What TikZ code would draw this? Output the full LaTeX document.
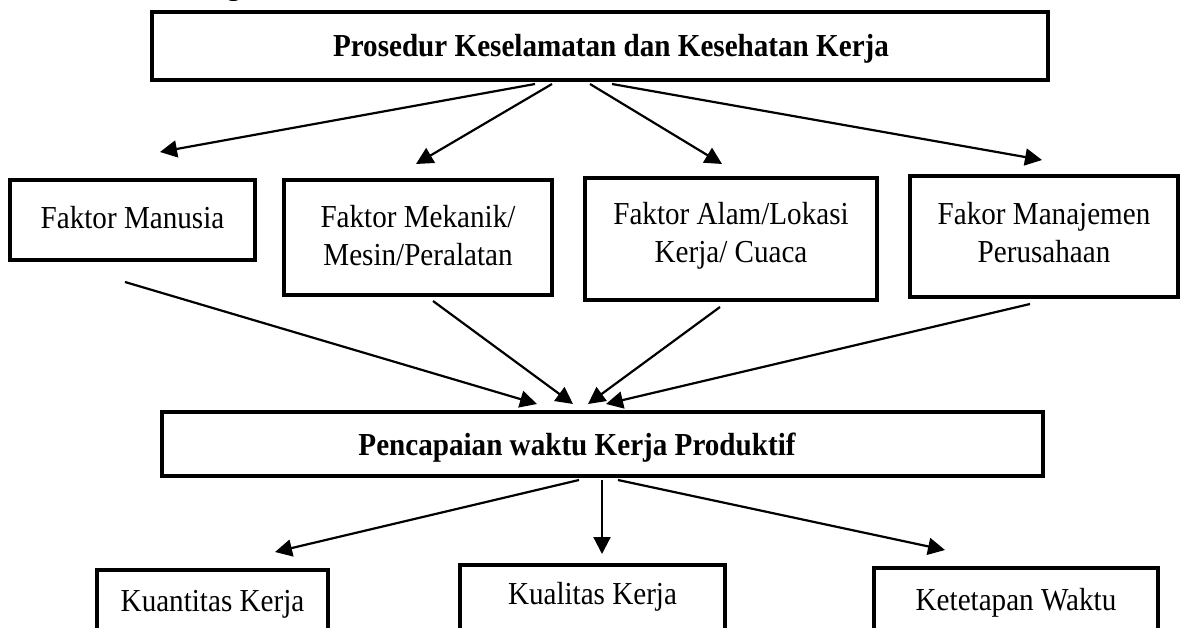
\documentclass[tikz,border=0pt]{standalone}
\usepackage{fontspec}
\setmainfont{Liberation Serif}
\usetikzlibrary{arrows.meta}
\newcommand{\sqz}[1]{\scalebox{0.91}[1]{#1}}
\begin{document}
\begin{tikzpicture}[x=1pt,y=-1pt,
  box/.style={draw, line width=4pt, inner sep=0pt},
  lbl/.style={inner sep=0pt, align=center, font=\fontsize{32}{38}\selectfont},
  blbl/.style={lbl, font=\fontsize{32}{38}\selectfont\bfseries},
  conn/.style={line width=2.2pt, -{Triangle[width=17pt,length=17pt]}},
]
\useasboundingbox (0,0) rectangle (1199,628);
\clip (0,0) rectangle (1199,628);

% cut-off heading glyph at the top edge
\node[blbl, anchor=base] (head) at (234,-5) {\sqz{g}};

% top box
\node[box, minimum width=896pt, minimum height=68pt] (top) at (600,46) {};
\node[blbl, anchor=base] (toptxt) at (611,57) {\sqz{Prosedur Keselamatan dan Kesehatan Kerja}};

% factor boxes
\node[box, minimum width=245pt, minimum height=80pt] (f1) at (132.5,220) {};
\node[box, minimum width=268pt, minimum height=115pt] (f2) at (418,237.5) {};
\node[box, minimum width=292pt, minimum height=122pt] (f3) at (731,239) {};
\node[box, minimum width=268pt, minimum height=121pt] (f4) at (1044,236.5) {};
\node[lbl] (f1txt) at (132.5,218) {\sqz{Faktor Manusia}};
\node[lbl] (f2txt) at (418,236) {\sqz{Faktor Mekanik/}\\\sqz{Mesin/Peralatan}};
\node[lbl] (f3txt) at (731,236) {\sqz{Faktor Alam/Lokasi}\\\sqz{Kerja/ Cuaca}};
\node[lbl] (f4txt) at (1044,233) {\sqz{Fakor Manajemen}\\\sqz{Perusahaan}};

% middle box
\node[box, minimum width=881pt, minimum height=64pt] (mid) at (602.5,444) {};
\node[blbl, anchor=base] (midtxt) at (577,455) {\sqz{Pencapaian waktu Kerja Produktif}};

% bottom boxes (cut by the lower edge)
\node[box, minimum width=231pt, minimum height=100pt] (b1box) at (212.5,620) {};
\node[box, minimum width=265pt, minimum height=100pt] (b2box) at (592.5,615) {};
\node[box, minimum width=284pt, minimum height=100pt] (b3box) at (1016,618) {};
\node[lbl, anchor=base] (b1) at (212.5,611) {\sqz{Kuantitas Kerja}};
\node[lbl, anchor=base] (b2) at (592.5,604) {\sqz{Kualitas Kerja}};
\node[lbl, anchor=base] (b3) at (1016,610) {\sqz{Ketetapan Waktu}};

% arrow tips (free ends)
\coordinate (t1) at (160,152);
\coordinate (t2) at (416,164);
\coordinate (t3) at (722,164);
\coordinate (t4) at (1042,160);
\coordinate (m1) at (537,404);
\coordinate (m2) at (573,404);
\coordinate (m3) at (588,404);
\coordinate (m4) at (606,404);
\coordinate (u1) at (275,552);
\coordinate (u2) at (602,554);
\coordinate (u3) at (945,550);

\draw[conn] ([xshift=-65pt,yshift=-2pt]top.south) -- (t1);
\draw[conn] ([xshift=-48pt,yshift=-2pt]top.south) -- (t2);
\draw[conn] ([xshift=-10pt,yshift=-2pt]top.south) -- (t3);
\draw[conn] ([xshift=12pt,yshift=-2pt]top.south) -- (t4);

\draw[conn] ([xshift=-7.5pt,yshift=-20pt]f1.south) -- (m1);
\draw[conn] ([xshift=15pt,yshift=-4pt]f2.south) -- (m2);
\draw[conn] ([xshift=-11pt,yshift=-5pt]f3.south) -- (m3);
\draw[conn] ([xshift=-14pt,yshift=-5pt]f4.south) -- (m4);

\draw[conn] ([xshift=-23.5pt,yshift=-2pt]mid.south) -- (u1);
\draw[conn] ([xshift=-0.5pt,yshift=-2pt]mid.south) -- (u2);
\draw[conn] ([xshift=15.5pt,yshift=-2pt]mid.south) -- (u3);
\end{tikzpicture}
\end{document}
